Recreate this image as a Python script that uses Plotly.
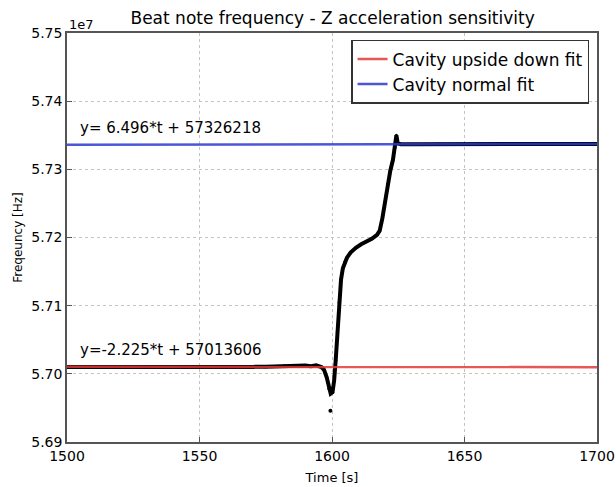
import plotly.graph_objects as go

# ---- data ----
time_s = [1500, 1505, 1510, 1515, 1520, 1525, 1530, 1535, 1540, 1545, 1550, 1555, 1560,
          1565, 1570, 1575, 1580, 1582, 1584, 1586, 1588, 1590, 1592, 1594, 1596, 1597,
          1598, 1598.8, 1599.5, 1600.2, 1600.8, 1601.4, 1602.0, 1602.7, 1603.4, 1604.1,
          1604.8, 1605.6, 1607, 1609, 1611, 1613, 1615, 1617, 1618, 1619, 1620, 1621,
          1622, 1623, 1623.8, 1624.3, 1624.8, 1626, 1630, 1635, 1640, 1645, 1650, 1655,
          1660, 1665, 1670, 1675, 1680, 1685, 1690, 1695, 1700]
freq_hz = [57010200, 57010100, 57010300, 57010000, 57010200, 57010100, 57010300, 57010000,
           57010200, 57010100, 57010000, 57010200, 57010100, 57010300, 57010200, 57010400,
           57011200, 57012000, 57011400, 57012400, 57011600, 57012200, 57011300, 57012500,
           57010000, 57006000, 56995000, 56978000, 56971000, 56973000, 56990000, 57020000,
           57060000, 57105000, 57138000, 57155000, 57164000, 57170000, 57178000, 57185000,
           57190000, 57194000, 57198000, 57204000, 57210000, 57228000, 57252000, 57278000,
           57298000, 57314000, 57332000, 57350000, 57338000, 57336800, 57336900, 57336800,
           57337000, 57336900, 57337100, 57337000, 57337100, 57337200, 57337100, 57337200,
           57337300, 57337200, 57337300, 57337400, 57337300]
outlier_t = [1599.4]
outlier_f = [56946000]

fit_down = {"slope": -2.225, "intercept": 57013606, "label": "Cavity upside down fit"}
fit_normal = {"slope": 6.496, "intercept": 57326218, "label": "Cavity normal fit"}
fit_t = [1500, 1700]

y_tickvals = [56900000, 57000000, 57100000, 57200000, 57300000, 57400000, 57500000]
y_ticktext = ["5.69", "5.70", "5.71", "5.72", "5.73", "5.74", "5.75"]
x_tickvals = [1500, 1550, 1600, 1650, 1700]

RED = "#e23a3a"
BLUE = "#2c3ad2"
FONT = "DejaVu Sans"


def fit_value(fit, t):
    return fit["slope"] * t + fit["intercept"]


fig = go.Figure()
fig.add_trace(go.Scatter(x=time_s, y=freq_hz, mode="lines+markers",
                         line=dict(color="black", width=4),
                         marker=dict(color="black", size=3), showlegend=False))
fig.add_trace(go.Scatter(x=outlier_t, y=outlier_f, mode="markers",
                         marker=dict(color="black", size=4), showlegend=False))
for fit, col in ((fit_down, RED), (fit_normal, BLUE)):
    fig.add_trace(go.Scatter(x=fit_t, y=[fit_value(fit, t) for t in fit_t],
                             mode="lines", line=dict(color=col, width=2.5),
                             name=fit["label"], opacity=0.85))

for fit in (fit_normal, fit_down):
    sign = "" if fit["slope"] < 0 else " "
    fig.add_annotation(x=1504, y=fit_value(fit, 1504), xref="x", yref="y",
                       text=f"y={sign}{fit['slope']:.3f}*t + {fit['intercept']}",
                       showarrow=False, xanchor="left", yanchor="bottom", yshift=6,
                       font=dict(family=FONT, size=15, color="black"))

fig.add_annotation(x=0, y=1, xref="paper", yref="paper", text="1e7", showarrow=False,
                   xanchor="left", yanchor="bottom", xshift=0, yshift=-1,
                   font=dict(family=FONT, size=13, color="black"))

axis_common = dict(showgrid=True, gridcolor="#c4c4c4", griddash="dot", gridwidth=1,
                   showline=True, linecolor="#555555", linewidth=1.5, mirror=True,
                   ticks="inside", ticklen=5, tickcolor="#555555", zeroline=False,
                   automargin=False,
                   tickfont=dict(family=FONT, size=14, color="black"))

fig.update_layout(
    width=616, height=487,
    margin=dict(l=67, r=19, t=33, b=45),
    paper_bgcolor="white", plot_bgcolor="white",
    title=dict(text="Beat note frequency - Z acceleration sensitivity", x=0.54, xanchor="center",
               y=0.963, yanchor="middle", font=dict(family=FONT, size=17, color="black")),
    xaxis=dict(range=[1500, 1700], tickvals=x_tickvals,
               title=dict(text="Time [s]", font=dict(family=FONT, size=13, color="black"), standoff=10),
               **axis_common),
    yaxis=dict(range=[56900000, 57500000], tickvals=y_tickvals, ticktext=y_ticktext,
               title=dict(text="Freqeuncy [Hz]", font=dict(family=FONT, size=12, color="black"), standoff=6),
               **axis_common),
    legend=dict(x=0.985, y=0.983, xanchor="right", yanchor="top", bgcolor="white",
                bordercolor="#333333", borderwidth=1.5, tracegroupgap=0,
                font=dict(family=FONT, size=17, color="black")),
)

fig.write_html("out.html")
